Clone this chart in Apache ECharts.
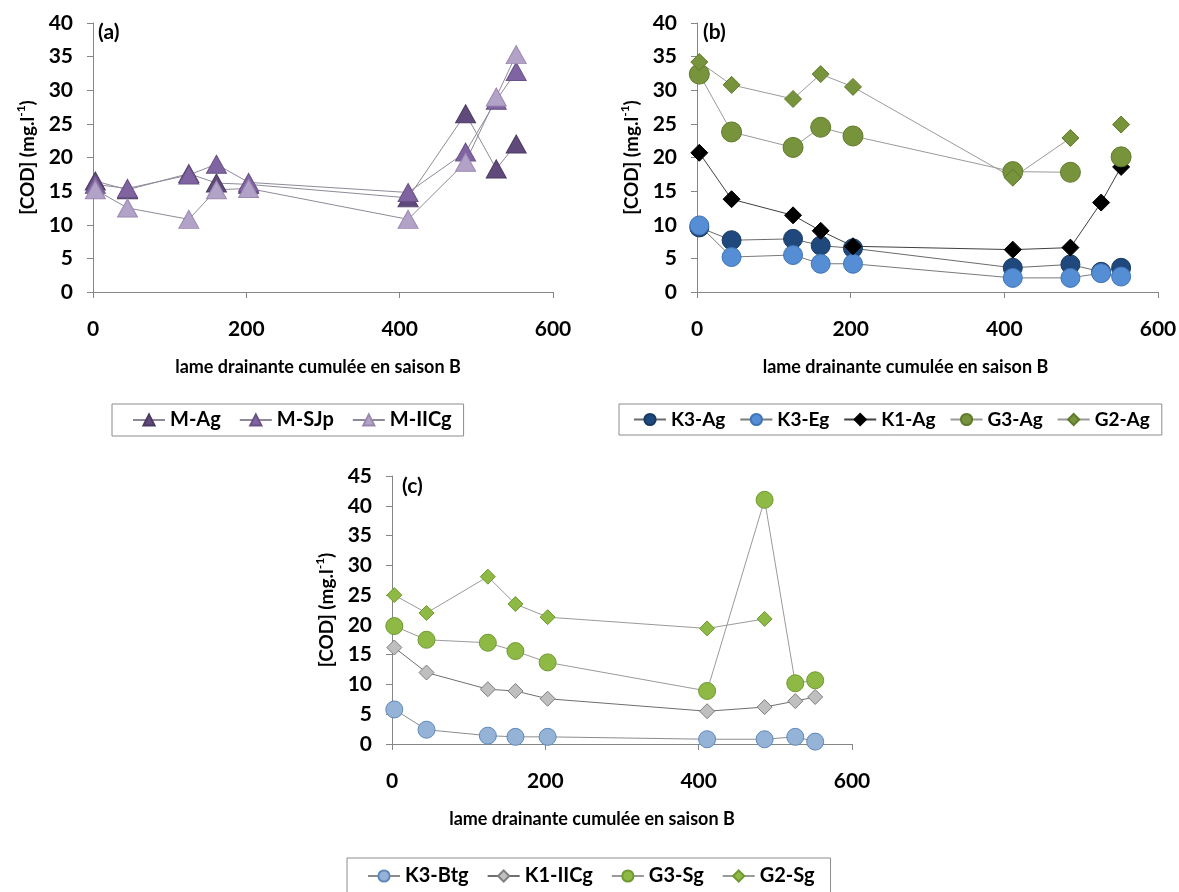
<!DOCTYPE html>
<html>
<head>
<meta charset="utf-8">
<script src="https://cdn.jsdelivr.net/npm/echarts@6/dist/echarts.min.js"></script>
<style>
html,body{margin:0;padding:0;background:#fff;}
#chart{width:1179px;height:892px;}
</style>
</head>
<body>
<div id="chart"></div>
<script>
// cumulative drainage (x values, shared by all panels)
const drainage = [3, 45, 125, 161, 203, 411, 486, 526, 552];
const xTicks = [0, 200, 400, 600];

// panel (a)
const M_Ag   = [16.5, 15.2, 17.6, 16.2, 16.0, 14.0, 26.5, 18.3, 22.0];
const M_SJp  = [16.0, 15.4, 17.4, 19.0, 16.3, 14.8, 20.8, 28.5, 32.8];
const M_IICg = [15.2, 12.5, 10.8, 15.2, 15.4, 10.8, 19.3, 29.0, 35.3];

// panel (b)
const K3_Ag = [9.6, 7.7, 7.9, 6.9, 6.5, 3.6, 4.1, 3.0, 3.6];
const K3_Eg = [9.9, 5.2, 5.5, 4.2, 4.2, 2.1, 2.1, 2.8, 2.3];
const K1_Ag = [20.7, 13.8, 11.4, 9.1, 6.8, 6.3, 6.6, 13.3, 18.6];
const G3_Ag = [32.4, 23.8, 21.5, 24.5, 23.2, 17.9, 17.8, null, 20.1];
const G2_Ag = [34.2, 30.8, 28.7, 32.4, 30.5, 17.0, 22.9, null, 24.9];

// panel (c)
const K3_Btg  = [5.8, 2.4, 1.4, 1.2, 1.2, 0.8, 0.8, 1.2, 0.4];
const K1_IICg = [16.2, 12.0, 9.2, 8.9, 7.6, 5.5, 6.2, 7.2, 7.9];
const G3_Sg   = [19.8, 17.5, 17.0, 15.6, 13.7, 8.9, 41.0, 10.2, 10.7];
const G2_Sg   = [25.0, 22.0, 28.1, 23.5, 21.3, 19.4, 21.0, null, null];

const xTitle = 'lame drainante cumulée en saison B';
const FONT = 'Lato, "Open Sans", sans-serif';

function pts(vals){ return drainage.map((x,i)=>[x, vals[i]==null ? '-' : vals[i]]); }

function ser(name, vals, idx, symbol, size, fill, border, lineColor){
  return {
    name, type:'line', xAxisIndex: idx, yAxisIndex: idx,
    data: pts(vals), symbol, symbolSize: size, showSymbol: true,
    connectNulls: false,
    lineStyle:{color: lineColor, width: 1},
    itemStyle:{color: fill, borderColor: border, borderWidth: 1},
    emphasis:{disabled:true}, animation:false
  };
}

const grids = [
  {left: 93, top: 23, width: 460, height: 269},
  {left: 697, top: 23, width: 461, height: 269},
  {left: 392, top: 476, width: 460, height: 268}
];

function xAx(gi, shift){
  return {
    type:'value', gridIndex: gi, min: xTicks[0], max: xTicks[xTicks.length-1], interval: 200,
    splitLine:{show:false},
    axisLine:{show:true, onZero:false, lineStyle:{color:'#868686', width:1}},
    axisTick:{show:true, length:6, lineStyle:{color:'#868686'}},
    axisLabel:{margin: 27, fontSize: 21, fontWeight:'bold', color:'#000', fontFamily: FONT},
    name: xTitle, nameLocation:'middle', nameGap: 66,
    nameTextStyle:{fontSize: 18, fontWeight:'bold', color:'#000', fontFamily: FONT,
      padding: shift > 0 ? [0, shift*2, 0, 0] : [0,0,0,0]}
  };
}
function yAx(gi, max){
  return {
    type:'value', gridIndex: gi, min: 0, max: max, interval: 5,
    splitLine:{show:false},
    axisLine:{show:true, lineStyle:{color:'#868686', width:1}},
    axisTick:{show:true, length:6, lineStyle:{color:'#868686'}},
    axisLabel:{margin: 20, fontSize: 21, fontWeight:'bold', color:'#000', fontFamily: FONT},
    name: '{t|[COD] (mg.l}{s|-1}{t|)}', nameLocation:'middle', nameGap: 56, nameRotate: 90,
    nameTextStyle:{fontFamily: FONT, color:'#000',
      rich:{
        t:{fontSize:19, fontWeight:'bold', fontFamily: FONT, color:'#000', lineHeight: 22, verticalAlign:'bottom'},
        s:{fontSize:12, fontWeight:'bold', fontFamily: FONT, color:'#000', lineHeight: 22, verticalAlign:'top', padding:[0,0,9,0]}
      }}
  };
}

const legendBase = {
  orient:'horizontal', itemWidth: 32, itemHeight: 14, itemGap: 18,
  borderColor:'#8c8c8c', borderWidth: 1, backgroundColor:'#fff',
  textStyle:{fontSize: 20, fontWeight:'bold', color:'#000', fontFamily: FONT},
  selectedMode: false
};

const option = {
  backgroundColor:'#fff',
  animation:false,
  title: [
    {text:'(a)', left: 98, top: 22, padding:0, textStyle:{fontSize:21, fontWeight:'bold', color:'#000', fontFamily: FONT}},
    {text:'(b)', left: 703, top: 22, padding:0, textStyle:{fontSize:21, fontWeight:'bold', color:'#000', fontFamily: FONT}},
    {text:'(c)', left: 402, top: 476, padding:0, textStyle:{fontSize:21, fontWeight:'bold', color:'#000', fontFamily: FONT}}
  ],
  grid: grids.map(g => Object.assign({containLabel:false, outerBoundsMode:'none'}, g)),
  xAxis: [xAx(0, 5), xAx(1, 22), xAx(2, 30)],
  yAxis: [yAx(0, 40), yAx(1, 40), yAx(2, 45)],
  legend: [
    Object.assign({}, legendBase, {left: 112, top: 404, padding:[6, 12, 6, 20], data:['M-Ag','M-SJp','M-IICg']}),
    Object.assign({}, legendBase, {left: 619, top: 404, width: 560, itemGap: 14, padding:[6, 12, 6, 14],
      textStyle:{fontSize: 19, fontWeight:'bold', color:'#000', fontFamily: FONT},
      data:['K3-Ag','K3-Eg','K1-Ag','G3-Ag','G2-Ag']}),
    Object.assign({}, legendBase, {left: 347, top: 858, padding:[8, 16, 20, 20], data:['K3-Btg','K1-IICg','G3-Sg','G2-Sg']})
  ],
  series: [
    ser('M-Ag',   M_Ag,   0, 'triangle', [20,18], '#604A7B', '#4b3a61', '#8f8a99'),
    ser('M-SJp',  M_SJp,  0, 'triangle', [20,18], '#8064A2', '#6a5288', '#8f8a99'),
    ser('M-IICg', M_IICg, 0, 'triangle', [20,18], '#B3A2C7', '#9a88b0', '#8f8a99'),

    ser('K3-Ag', K3_Ag, 1, 'circle', 19, '#1F497D', '#173a63', '#6b6b6b'),
    ser('K3-Eg', K3_Eg, 1, 'circle', 19, '#558ED5', '#3f74b5', '#7a7a7a'),
    ser('K1-Ag', K1_Ag, 1, 'diamond', 17, '#000000', '#000000', '#404040'),
    ser('G3-Ag', G3_Ag, 1, 'circle', 20, '#77933C', '#5f7a2c', '#9a9a9a'),
    ser('G2-Ag', G2_Ag, 1, 'diamond', 17, '#77933C', '#5f7a2c', '#9a9a9a'),

    ser('K3-Btg',  K3_Btg,  2, 'circle', 17, '#95B3D7', '#5f88ba', '#8c8c8c'),
    ser('K1-IICg', K1_IICg, 2, 'diamond', 15, '#BFBFBF', '#7f7f7f', '#6f6f6f'),
    ser('G3-Sg',   G3_Sg,   2, 'circle', 17, '#8DB944', '#6f9a30', '#9a9a9a'),
    ser('G2-Sg',   G2_Sg,   2, 'diamond', 15, '#8DB944', '#6f9a30', '#9a9a9a')
  ]
};

const chart = echarts.init(document.getElementById('chart'), null, {renderer:'canvas'});
chart.setOption(option);
</script>
</body>
</html>
